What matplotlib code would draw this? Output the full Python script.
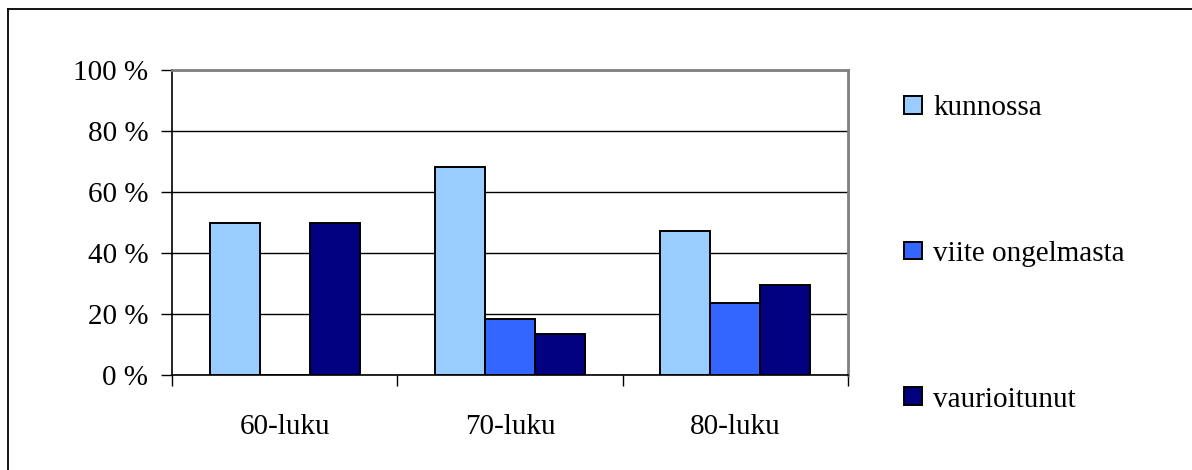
import numpy as np
import matplotlib
matplotlib.use("Agg")
import matplotlib.pyplot as plt
from matplotlib.lines import Line2D

categories = ['60-luku', '70-luku', '80-luku']
series_names = ['kunnossa', 'viite ongelmasta', 'vaurioitunut']
kunnossa = [50.0, 68.2, 47.1]
viite = [0.0, 18.2, 23.5]
vaurio = [50.0, 13.6, 29.4]
yticks = [0, 20, 40, 60, 80, 100]
ytick_labels = ['0 %', '20 %', '40 %', '60 %', '80 %', '100 %']

colors = ['#99CCFF', '#3366FF', '#000080']

plt.rcParams['font.family'] = ['Liberation Serif', 'DejaVu Serif']
fs = 21

fig = plt.figure(figsize=(11.92, 4.70), dpi=100)
ax = fig.add_axes([172 / 1192, 1 - 375 / 470, (848 - 172) / 1192, (375 - 70) / 470])

# outer chart frame: only top and left edges are inside the picture
fx, fy = 8 / 1192, 1 - 9 / 470
fig.lines.append(Line2D([fx, 1.01], [fy, fy], transform=fig.transFigure,
                        color='black', linewidth=1.3))
fig.lines.append(Line2D([fx, fx], [fy, -0.01], transform=fig.transFigure,
                        color='black', linewidth=1.3))

x = np.arange(len(categories))
w = 0.222
for i, (vals, name) in enumerate(zip([kunnossa, viite, vaurio], series_names)):
    ax.bar(x + (i - 1) * w, vals, w, color=colors[i], edgecolor='black',
           linewidth=1.4, label=name, zorder=3)

ax.set_xlim(-0.5, 2.5)
ax.set_ylim(0, 100)
ax.set_yticks(yticks)
ax.set_yticklabels(ytick_labels, fontsize=fs)
ax.yaxis.grid(True, color='black', linewidth=1.0, zorder=0)
ax.set_axisbelow(True)

ax.set_xticks([-0.5, 0.5, 1.5, 2.5])
ax.set_xticklabels([])
ax.set_xticks(x, minor=True)
ax.set_xticklabels(categories, minor=True, fontsize=fs)
ax.tick_params(axis='x', which='major', direction='out', length=8, width=1, color='black')
ax.tick_params(axis='x', which='minor', length=0, pad=28)
ax.tick_params(axis='y', direction='out', length=8, width=1, pad=9)

for s in ['left', 'bottom']:
    ax.spines[s].set_color('black')
    ax.spines[s].set_linewidth(1.2)
for s in ['top', 'right']:
    ax.spines[s].set_color('#808080')
    ax.spines[s].set_linewidth(2)

fig.legend(loc='center left', bbox_to_anchor=(904 / 1192, 1 - 254 / 470),
           frameon=False, fontsize=fs, labelspacing=4.1, handlelength=0.6,
           handleheight=0.55, handletextpad=0.4, borderpad=0, borderaxespad=0)

fig.savefig('out.png', dpi=100)
